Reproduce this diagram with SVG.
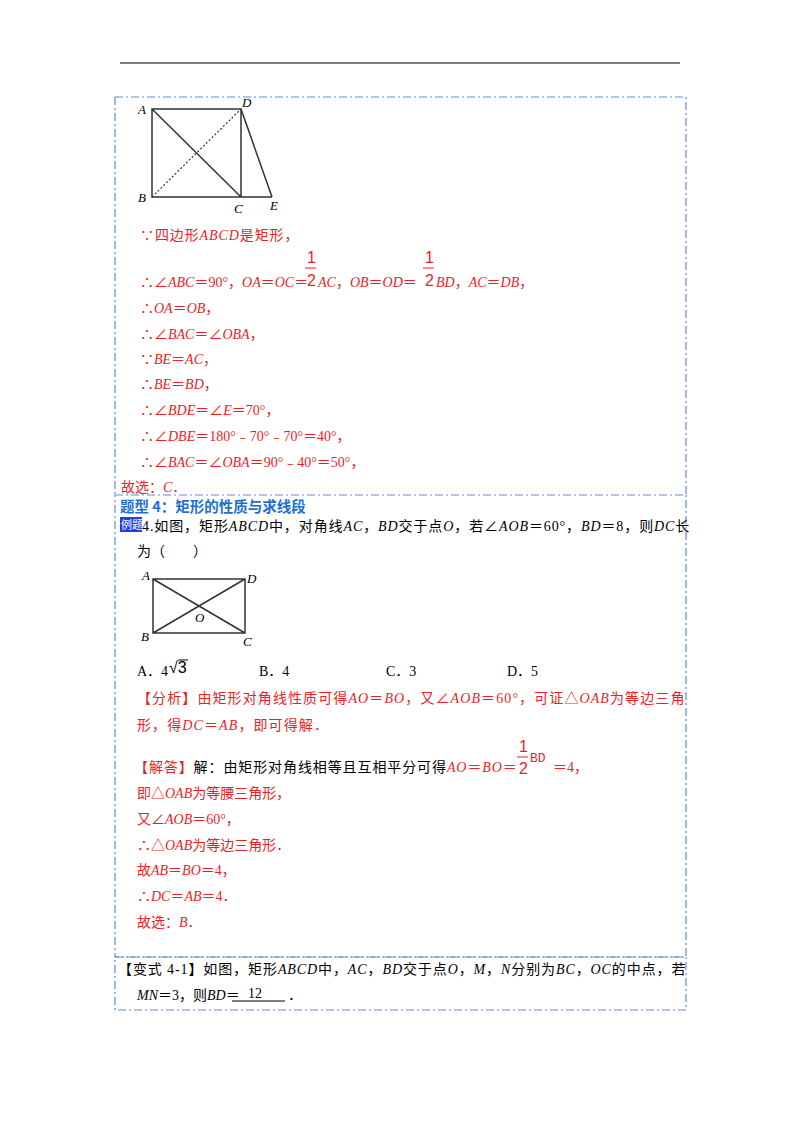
<svg xmlns="http://www.w3.org/2000/svg" width="800" height="1132" viewBox="0 0 800 1132">
<style>
text{font-family:"Liberation Serif","Noto Sans CJK SC",serif;font-size:14px}
.r{fill:#ee1c25}.k{fill:#000}
.i{font-style:italic}
.sp{letter-spacing:0.9px}
.box{fill:none;stroke:#5b8fd6;stroke-width:1.2;stroke-dasharray:8 3 2 3}
.g{stroke:#333;stroke-width:1.5;fill:none}
.lb{font-style:italic;font-size:13px}
.f{font-family:"Liberation Sans",sans-serif;font-size:16px}
</style>
<rect width="800" height="1132" fill="#fff"/>
<line x1="120" y1="63" x2="680" y2="63" stroke="#000" stroke-width="1.2"/>
<g id="boxes">
<path class="box" d="M115 97H686V495M115 97V495"/>
<path class="box" d="M115 495H686V957H115Z"/>
<path class="box" d="M115 957H686V1010H115Z"/>
</g>
<g id="fig1">
<path class="g" d="M152 109H241V197H152ZM241 109L272 197M152 109L241 197M241 197H272"/>
<line x1="152" y1="197" x2="241" y2="109" stroke="#333" stroke-width="1.2" stroke-dasharray="2 2"/>
<text x="138" y="114" class="lb">A</text><text x="242" y="107" class="lb">D</text>
<text x="138" y="202" class="lb">B</text><text x="234" y="213" class="lb">C</text><text x="270" y="210" class="lb">E</text>
</g>
<g id="sol1" class="r">
<text x="140" y="240" class="sp">∵四边形<tspan class="i">ABCD</tspan>是矩形，</text>
<text x="307" y="263" class="f">1</text><line x1="305" y1="268" x2="316" y2="268" stroke="#ee1c25"/><text x="307" y="286" class="f">2</text>
<text x="425" y="263" class="f">1</text><line x1="423" y1="268" x2="434" y2="268" stroke="#ee1c25"/><text x="425" y="286" class="f">2</text>
<text x="140" y="287">∴∠<tspan class="i">ABC</tspan>＝90°，<tspan class="i">OA</tspan>＝<tspan class="i">OC</tspan>＝<tspan x="318" class="i">AC</tspan>，<tspan class="i">OB</tspan>＝<tspan class="i">OD</tspan>＝<tspan x="436" class="i">BD</tspan>，<tspan class="i">AC</tspan>＝<tspan class="i">DB</tspan>，</text>
<text x="140" y="313">∴<tspan class="i">OA</tspan>＝<tspan class="i">OB</tspan>，</text>
<text x="140" y="339">∴∠<tspan class="i">BAC</tspan>＝∠<tspan class="i">OBA</tspan>，</text>
<text x="140" y="364">∵<tspan class="i">BE</tspan>＝<tspan class="i">AC</tspan>，</text>
<text x="140" y="389">∴<tspan class="i">BE</tspan>＝<tspan class="i">BD</tspan>，</text>
<text x="140" y="415">∴∠<tspan class="i">BDE</tspan>＝∠<tspan class="i">E</tspan>＝70°，</text>
<text x="140" y="441">∴∠<tspan class="i">DBE</tspan>＝180°﹣70°﹣70°＝40°，</text>
<text x="140" y="467">∴∠<tspan class="i">BAC</tspan>＝∠<tspan class="i">OBA</tspan>＝90°﹣40°＝50°，</text>
<text x="121" y="492">故选：<tspan class="i">C</tspan>．</text>
</g>
<text x="120" y="512" style="font-family:'Noto Sans CJK SC',sans-serif;font-weight:bold;font-size:14.5px;fill:#1e6fd0">题型 4：矩形的性质与求线段</text>
<g id="q4">
<rect x="120" y="517" width="22" height="15" fill="#1f3fe0"/>
<text x="121" y="529" style="font-size:11px;fill:#fff;font-family:'Noto Sans CJK SC',sans-serif">例题</text>
<text x="142" y="531" class="k sp">4.如图，矩形<tspan class="i">ABCD</tspan>中，对角线<tspan class="i">AC</tspan>，<tspan class="i">BD</tspan>交于点<tspan class="i">O</tspan>，若∠<tspan class="i">AOB</tspan>＝60°，<tspan class="i">BD</tspan>＝8，则<tspan class="i">DC</tspan>长</text>
<text x="137" y="556" class="k">为（　　）</text>
</g>
<g id="fig2">
<path class="g" d="M153 579H245V633H153ZM153 579L245 633M153 633L245 579" stroke-width="1.2"/>
<text x="142" y="580" class="lb">A</text><text x="247" y="583" class="lb">D</text>
<text x="141" y="641" class="lb">B</text><text x="243" y="646" class="lb">C</text><text x="195" y="622" class="lb">O</text>
</g>
<g id="choices" class="k">
<text x="137" y="676">A．4</text><text x="169" y="673" class="f">√3</text><line x1="178" y1="660" x2="188" y2="660" stroke="#000"/>
<text x="259" y="676">B．4</text><text x="386" y="676">C．3</text><text x="507" y="676">D．5</text>
</g>
<g id="ana" class="r">
<text x="137" y="703" style="letter-spacing:1.1px">【分析】由矩形对角线性质可得<tspan class="i">AO</tspan>＝<tspan class="i">BO</tspan>，又∠<tspan class="i">AOB</tspan>＝60°，可证△<tspan class="i">OAB</tspan>为等边三角</text>
<text x="137" y="730" style="letter-spacing:1.1px">形，得<tspan class="i">DC</tspan>＝<tspan class="i">AB</tspan>，即可得解．</text>
<text x="134" y="772" class="sp">【解答】<tspan class="k">解：由矩形对角线相等且互相平分可得</tspan><tspan class="i">AO</tspan>＝<tspan class="i">BO</tspan>＝</text>
<text x="519" y="752" class="f">1</text><line x1="517" y1="757" x2="528" y2="757" stroke="#ee1c25"/><text x="519" y="774" class="f">2</text>
<text x="530" y="762" style="font-family:'Liberation Mono',monospace;font-size:13px">BD</text>
<text x="553" y="772">＝4，</text>
<text x="137" y="798">即△<tspan class="i">OAB</tspan>为等腰三角形，</text>
<text x="137" y="824">又∠<tspan class="i">AOB</tspan>＝60°，</text>
<text x="137" y="850">∴△<tspan class="i">OAB</tspan>为等边三角形．</text>
<text x="137" y="875">故<tspan class="i">AB</tspan>＝<tspan class="i">BO</tspan>＝4，</text>
<text x="137" y="901">∴<tspan class="i">DC</tspan>＝<tspan class="i">AB</tspan>＝4．</text>
<text x="137" y="927">故选：<tspan class="i">B</tspan>．</text>
</g>
<g id="v41" class="k">
<text x="118" y="974" class="sp">【变式 4-1】如图，矩形<tspan class="i">ABCD</tspan>中，<tspan class="i">AC</tspan>，<tspan class="i">BD</tspan>交于点<tspan class="i">O</tspan>，<tspan class="i">M</tspan>，<tspan class="i">N</tspan>分别为<tspan class="i">BC</tspan>，<tspan class="i">OC</tspan>的中点，若</text>
<text x="137" y="1000"><tspan class="i">MN</tspan>＝3，则<tspan class="i">BD</tspan>＝</text>
<text x="248" y="998">12</text><line x1="232" y1="1001" x2="285" y2="1001" stroke="#000"/>
<text x="288" y="1000">．</text>
</g>
</svg>
